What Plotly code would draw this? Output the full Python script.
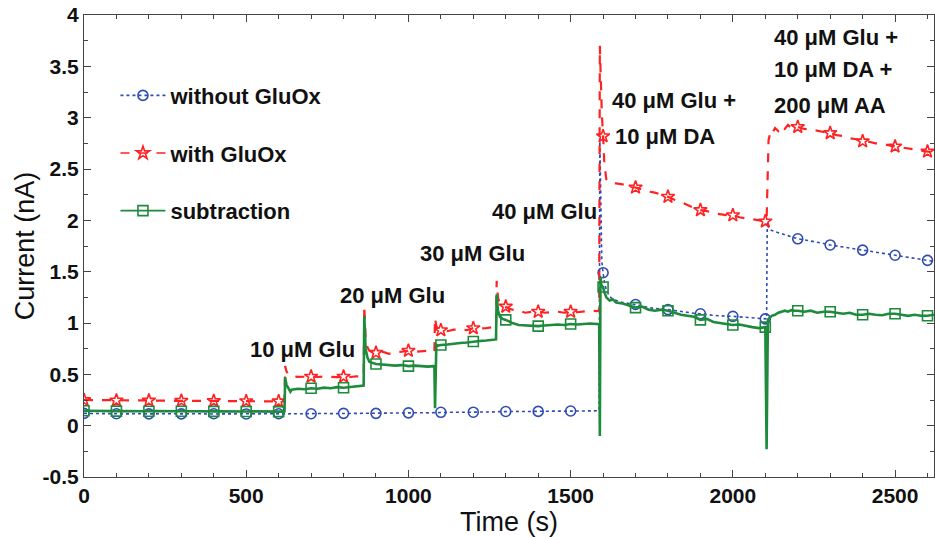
import plotly.graph_objects as go

# ---------------- data ----------------
time_s = (
    [0, 20, 40, 60, 80, 100, 120, 140, 160, 180, 200, 220, 240, 260, 280, 300,
     320, 340, 360, 380, 400, 420, 440, 460, 480, 500, 520, 540, 560, 580, 600]
    + [612, 618, 620, 624, 630, 636, 640, 660, 680, 700, 720, 740, 760, 780, 800, 820, 840, 856]
    + [862, 864, 868, 874, 880, 900, 920, 940, 960, 980, 1000, 1020, 1040, 1060, 1076]
    + [1080, 1082, 1086, 1092, 1100, 1120, 1140, 1160, 1180, 1200, 1220, 1240, 1260, 1268]
    + [1270, 1272, 1276, 1282, 1290, 1300, 1320, 1340, 1360, 1380, 1400, 1420, 1440, 1460,
       1480, 1500, 1520, 1540, 1560, 1580, 1588]
    + [1590, 1592, 1594, 1596, 1600, 1604, 1610, 1620, 1630,
       1640, 1660, 1680, 1700, 1720, 1740, 1760, 1780, 1800, 1820, 1840, 1860, 1880, 1900,
       1920, 1940, 1960, 1980, 2000, 2020, 2040, 2060, 2080, 2100]
    + [2104, 2106, 2108, 2110, 2116, 2120, 2130, 2140, 2150, 2160, 2170, 2180, 2190, 2200,
       2220, 2240, 2260, 2280, 2300, 2320, 2340, 2360, 2380, 2400, 2420, 2440, 2460, 2480,
       2500, 2520, 2540, 2560, 2580, 2600, 2620]
)

without_gluox = (
    [0.12, 0.118, 0.115, 0.117, 0.114, 0.116, 0.115, 0.117, 0.114, 0.116, 0.115, 0.117, 0.116,
     0.114, 0.116, 0.115, 0.117, 0.115, 0.116, 0.114, 0.116, 0.115, 0.117, 0.115, 0.116, 0.114,
     0.116, 0.115, 0.117, 0.115, 0.116]
    + [0.115, 0.116, 0.118, 0.116, 0.114, 0.117, 0.115, 0.116, 0.118, 0.116, 0.117, 0.119, 0.117,
       0.118, 0.12, 0.118, 0.119, 0.121]
    + [0.12, 0.121, 0.12, 0.122, 0.121, 0.12, 0.123, 0.122, 0.124, 0.123, 0.125, 0.124, 0.126,
       0.125, 0.127]
    + [0.127, 0.13, 0.128, 0.129, 0.13, 0.128, 0.131, 0.13, 0.132, 0.131, 0.133, 0.132, 0.134, 0.133]
    + [0.134, 0.136, 0.135, 0.137, 0.136, 0.138, 0.137, 0.139, 0.138, 0.14, 0.139, 0.141, 0.14,
       0.142, 0.141, 0.143, 0.142, 0.144, 0.143, 0.145, 0.145]
    + [2.8, 2.2, 1.8, 1.6, 1.49, 1.40, 1.32, 1.26, 1.23,
       1.22, 1.20, 1.19, 1.18, 1.165, 1.15, 1.14, 1.135, 1.13, 1.12, 1.11, 1.10, 1.095, 1.09,
       1.08, 1.075, 1.07, 1.07, 1.065, 1.06, 1.055, 1.05, 1.045, 1.04]
    + [1.04, 1.98, 1.95, 1.93, 1.91, 1.90, 1.89, 1.88, 1.87, 1.86, 1.85, 1.84, 1.83, 1.82,
       1.81, 1.80, 1.785, 1.775, 1.76, 1.75, 1.745, 1.735, 1.72, 1.71, 1.70, 1.69, 1.68, 1.67,
       1.66, 1.65, 1.64, 1.63, 1.62, 1.61, 1.60]
)

with_gluox = (
    [0.25, 0.25, 0.248, 0.249, 0.247, 0.246, 0.247, 0.245, 0.246, 0.244, 0.245, 0.244, 0.243,
     0.244, 0.242, 0.243, 0.242, 0.241, 0.242, 0.240, 0.241, 0.240, 0.239, 0.240, 0.238, 0.239,
     0.238, 0.237, 0.238, 0.236, 0.237]
    + [0.236, 0.24, 0.58, 0.53, 0.50, 0.49, 0.48, 0.475, 0.48, 0.478, 0.474, 0.48, 0.476, 0.472,
       0.478, 0.474, 0.48, 0.476]
    + [0.48, 1.17, 0.85, 0.76, 0.73, 0.71, 0.72, 0.70, 0.715, 0.72, 0.73, 0.72, 0.725, 0.73, 0.72]
    + [0.72, 1.05, 0.97, 0.94, 0.93, 0.92, 0.935, 0.94, 0.93, 0.95, 0.945, 0.95, 0.96, 0.955]
    + [0.96, 1.41, 1.25, 1.18, 1.17, 1.16, 1.13, 1.12, 1.10, 1.11, 1.11, 1.10, 1.105, 1.11,
       1.10, 1.11, 1.105, 1.11, 1.12, 1.115, 1.12]
    + [3.70, 3.45, 3.25, 3.05, 2.82, 2.55, 2.40, 2.37, 2.36,
       2.36, 2.35, 2.33, 2.32, 2.30, 2.28, 2.27, 2.25, 2.23, 2.20, 2.18, 2.15, 2.12, 2.10,
       2.09, 2.07, 2.06, 2.05, 2.05, 2.03, 2.02, 2.01, 2.0, 1.99]
    + [2.0, 2.3, 2.6, 2.78, 2.86, 2.84, 2.90, 2.87, 2.92, 2.89, 2.93, 2.90, 2.92, 2.91,
       2.89, 2.885, 2.87, 2.86, 2.85, 2.83, 2.82, 2.80, 2.79, 2.77, 2.765, 2.75, 2.745, 2.73,
       2.72, 2.71, 2.70, 2.69, 2.68, 2.67, 2.66]
)

subtraction = (
    [0.145, 0.143, 0.142, 0.144, 0.141, 0.142, 0.143, 0.141, 0.142, 0.140, 0.141, 0.142, 0.140,
     0.141, 0.139, 0.140, 0.141, 0.139, 0.140, 0.138, 0.139, 0.140, 0.138, 0.139, 0.137, 0.138,
     0.139, 0.137, 0.138, 0.136, 0.137]
    + [0.137, 0.14, 0.47, 0.40, 0.36, 0.33, 0.35, 0.36, 0.355, 0.365, 0.36, 0.37, 0.365, 0.375,
       0.37, 0.378, 0.385, 0.39]
    + [0.39, 1.07, 0.75, 0.66, 0.62, 0.60, 0.595, 0.59, 0.585, 0.59, 0.58, 0.585, 0.58, 0.575, 0.58]
    + [0.58, 0.17, 0.79, 0.78, 0.785, 0.79, 0.80, 0.805, 0.81, 0.82, 0.825, 0.83, 0.84, 0.84]
    + [0.84, 1.28, 1.12, 1.06, 1.04, 1.03, 1.0, 0.98, 0.975, 0.97, 0.97, 0.975, 0.98, 0.985,
       0.98, 0.99, 0.985, 0.99, 0.995, 0.99, 0.99]
    + [-0.10, 1.45, 1.38, 1.36, 1.35, 1.30, 1.25, 1.22, 1.23,
       1.20, 1.19, 1.17, 1.15, 1.16, 1.13, 1.12, 1.13, 1.12, 1.10, 1.08, 1.07, 1.06, 1.03,
       1.04, 1.01, 1.00, 0.99, 0.98, 0.985, 0.97, 0.96, 0.95, 0.96]
    + [-0.23, 0.95, 1.03, 1.04, 1.06, 1.07, 1.08, 1.10, 1.11, 1.12, 1.11, 1.125, 1.12, 1.12,
       1.11, 1.12, 1.10, 1.11, 1.11, 1.10, 1.09, 1.10, 1.08, 1.08, 1.09, 1.08, 1.075, 1.09,
       1.09, 1.08, 1.07, 1.08, 1.07, 1.07, 1.08]
)

series_names = ["without GluOx", "with GluOx", "subtraction"]

x_tickvals = [0, 500, 1000, 1500, 2000, 2500]
y_tickvals = [-0.5, 0, 0.5, 1, 1.5, 2, 2.5, 3, 3.5, 4]
y_ticktext = ["-0.5", "0", "0.5", "1", "1.5", "2", "2.5", "3", "3.5", "4"]

annotation_texts = ["10 μM Glu", "20 μM Glu", "30 μM Glu", "40 μM Glu",
                    "40 μM Glu +", "10 μM DA",
                    "40 μM Glu +", "10 μM DA +", "200 μM AA"]
annotation_x = [672, 952, 1196, 1418, 1621, 1630, 2120, 2120, 2120]
annotation_y = [0.74, 1.27, 1.68, 2.09, 3.17, 2.82, 3.78, 3.47, 3.12]
annotation_anchor = ["center", "center", "center", "center",
                     "left", "left", "left", "left", "left"]

# ---------------- styles ----------------
BLUE = "#2f4cb3"
RED = "#ff2222"
GREEN = "#1e8a3c"
FONT = "Liberation Sans, Arial, Helvetica, sans-serif"

styles = [
    dict(color=BLUE, dash="dot", width=1.6, symbol="circle-open", size=10),
    dict(color=RED, dash="dash", width=2.2, symbol="star-open", size=10),
    dict(color=GREEN, dash="solid", width=2.6, symbol="square-open", size=10),
]
data_series = [without_gluox, with_gluox, subtraction]

marker_idx = [i for i, t in enumerate(time_s) if t % 100 == 0]

fig = go.Figure()
for name, ys, st in zip(series_names, data_series, styles):
    fig.add_trace(go.Scatter(
        x=time_s, y=ys, mode="lines", showlegend=False,
        line=dict(color=st["color"], dash=st["dash"], width=st["width"]),
        hoverinfo="skip"))
    fig.add_trace(go.Scatter(
        x=[time_s[i] for i in marker_idx], y=[ys[i] for i in marker_idx],
        mode="markers", showlegend=False,
        marker=dict(symbol=st["symbol"], size=st["size"], color=st["color"],
                    line=dict(color=st["color"], width=1.6))))
    fig.add_trace(go.Scatter(
        x=[None], y=[None], mode="lines+markers", name=name, legendgroup=name,
        line=dict(color=st["color"], dash=st["dash"], width=1.6),
        marker=dict(symbol=st["symbol"], size=st["size"], color=st["color"],
                    line=dict(color=st["color"], width=1.6))))

for txt, ax, ay, anc in zip(annotation_texts, annotation_x, annotation_y, annotation_anchor):
    fig.add_annotation(x=ax, y=ay, xref="x", yref="y", text=txt, showarrow=False,
                       xanchor=anc, yanchor="middle",
                       font=dict(family=FONT, size=22, color="#111", weight="bold"))

axis_common = dict(
    showline=True, linecolor="#444", linewidth=1, mirror="allticks",
    ticks="inside", ticklen=7, tickcolor="#444", tickwidth=1,
    showgrid=False, zeroline=False,
    tickfont=dict(family=FONT, size=21, color="#111", weight="bold"),
)

fig.update_layout(
    width=935, height=537,
    margin=dict(l=84, r=1, t=15, b=60),
    paper_bgcolor="white", plot_bgcolor="white",
    xaxis=dict(range=[0, 2620], tickvals=x_tickvals,
               minor=dict(dtick=100, ticks="inside", ticklen=4, tickcolor="#444"),
               title=dict(text="Time (s)", standoff=3,
                          font=dict(family=FONT, size=27, color="#111")),
               **axis_common),
    yaxis=dict(range=[-0.5, 4], tickvals=y_tickvals, ticktext=y_ticktext,
               minor=dict(dtick=0.25, ticks="inside", ticklen=4, tickcolor="#444"),
               title=dict(text="Current (nA)", standoff=0,
                          font=dict(family=FONT, size=27, color="#111")),
               **axis_common),
    legend=dict(x=0.037, y=0.871, xanchor="left", yanchor="top",
                bgcolor="rgba(0,0,0,0)", tracegroupgap=26, itemwidth=45,
                font=dict(family=FONT, size=22, color="#111", weight="bold")),
    showlegend=True,
)

fig.write_html("out.html")
